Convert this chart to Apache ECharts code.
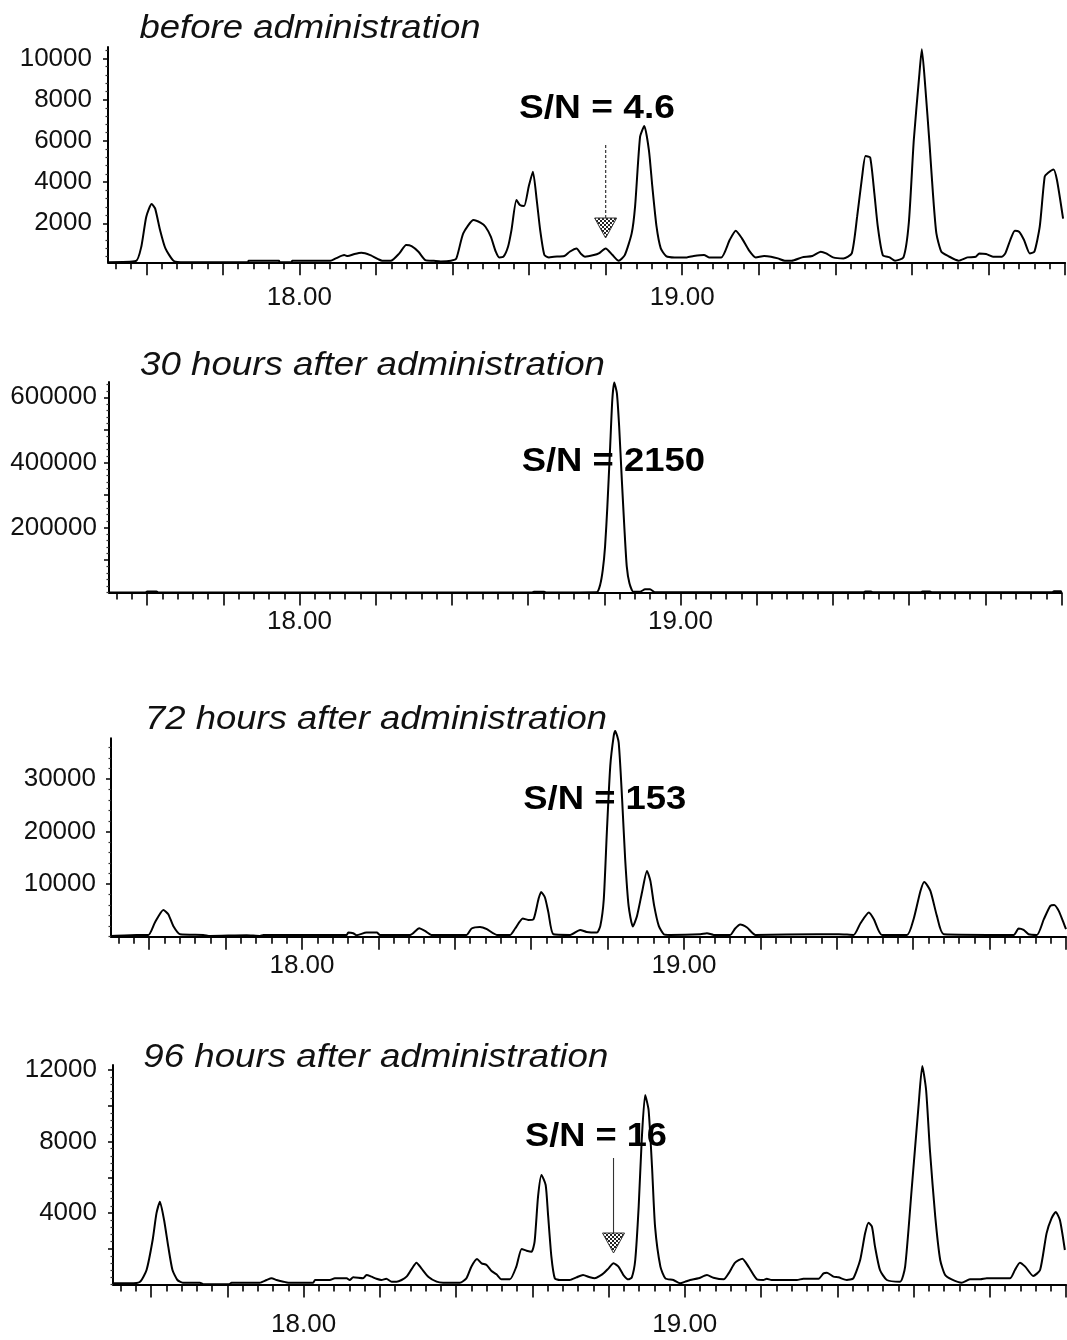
<!DOCTYPE html>
<html><head><meta charset="utf-8">
<script src="https://cdn.jsdelivr.net/npm/echarts@6/dist/echarts.min.js"></script>
<style>html,body{margin:0;padding:0;background:#fff}#c{width:1067px;height:1340px}</style>
</head><body><div id="c"></div>
<script>
// ---------------- data ----------------
const xTickLabels = [18.00, 19.00];

const p1YLabels = [2000, 4000, 6000, 8000, 10000];
const p2YLabels = [200000, 400000, 600000];
const p3YLabels = [10000, 20000, 30000];
const p4YLabels = [4000, 8000, 12000];

const titles = ['before administration', '30 hours after administration', '72 hours after administration', '96 hours after administration'];
const snLabels = ['S/N = 4.6', 'S/N = 2150', 'S/N = 153', 'S/N = 16'];

// before administration: [retention time (min), intensity]
const p1 = [[17.500,110],[17.573,167],[17.587,862],[17.600,2318],[17.614,2932],[17.623,2722],[17.636,1671],[17.650,781],[17.672,167],[17.700,110],[17.866,110],[17.867,183],[17.947,183],[17.948,110],[17.980,110],[17.981,183],[18.081,183],[18.095,296],[18.117,458],[18.126,409],[18.144,507],[18.162,571],[18.185,458],[18.207,248],[18.216,183],[18.239,183],[18.261,539],[18.279,943],[18.293,894],[18.311,620],[18.329,215],[18.351,183],[18.369,150],[18.396,183],[18.410,296],[18.428,1509],[18.455,2156],[18.473,2027],[18.486,1832],[18.500,1347],[18.513,620],[18.522,345],[18.533,377],[18.545,862],[18.554,1671],[18.567,3126],[18.576,2883],[18.587,2835],[18.599,3773],[18.610,4500],[18.620,3126],[18.629,1671],[18.640,458],[18.652,345],[18.665,377],[18.692,409],[18.706,620],[18.724,781],[18.736,507],[18.746,377],[18.769,458],[18.782,539],[18.800,781],[18.818,458],[18.834,183],[18.850,458],[18.868,1509],[18.877,2835],[18.890,6198],[18.901,6716],[18.913,5552],[18.922,3773],[18.933,1832],[18.944,781],[18.958,409],[18.980,345],[19.012,345],[19.030,409],[19.057,458],[19.070,345],[19.102,345],[19.124,1186],[19.140,1638],[19.156,1267],[19.174,701],[19.192,345],[19.214,409],[19.232,377],[19.250,296],[19.268,183],[19.286,183],[19.313,345],[19.340,409],[19.362,620],[19.376,539],[19.394,345],[19.421,296],[19.443,539],[19.457,2318],[19.470,4258],[19.479,5260],[19.491,5196],[19.502,3449],[19.511,1832],[19.524,458],[19.542,345],[19.556,183],[19.578,345],[19.592,2027],[19.605,6037],[19.619,9109],[19.626,10435],[19.635,8624],[19.646,5875],[19.655,3449],[19.664,1509],[19.677,620],[19.695,409],[19.722,183],[19.745,345],[19.767,377],[19.776,539],[19.794,507],[19.812,377],[19.835,377],[19.844,539],[19.857,1186],[19.869,1638],[19.880,1590],[19.893,1186],[19.908,539],[19.920,620],[19.934,1832],[19.947,4258],[19.956,4452],[19.970,4613],[19.979,4096],[19.995,2222]];

// 30 hours after administration
const p2 = [[17.500,0],[17.595,0],[17.600,3000],[17.625,3000],[17.630,0],[18.610,0],[18.615,2500],[18.642,2500],[18.648,0],[18.780,600],[18.789,23000],[18.796,69200],[18.802,141000],[18.808,264000],[18.815,438500],[18.821,592300],[18.826,645600],[18.833,613000],[18.839,510200],[18.846,346200],[18.853,192300],[18.859,79400],[18.866,28300],[18.876,2500],[18.894,2500],[18.907,9800],[18.920,9800],[18.933,1000],[19.480,1000],[19.485,3000],[19.500,3000],[19.505,1000],[19.630,1000],[19.635,3000],[19.655,3000],[19.660,1000],[19.975,1000],[19.980,3500],[19.998,3500],[20.000,1000]];

// 72 hours after administration
const p3 = [[17.500,152],[17.567,343],[17.598,343],[17.615,2705],[17.637,5105],[17.650,4286],[17.663,2057],[17.681,476],[17.742,343],[17.759,152],[17.855,286],[17.890,152],[17.899,343],[18.117,343],[18.121,800],[18.134,667],[18.143,286],[18.169,800],[18.196,800],[18.204,343],[18.283,343],[18.307,1619],[18.322,1105],[18.339,343],[18.431,343],[18.444,1562],[18.466,1867],[18.484,1429],[18.510,343],[18.545,343],[18.558,1562],[18.578,3467],[18.592,3200],[18.606,3334],[18.619,7144],[18.626,8534],[18.636,7468],[18.645,4610],[18.658,476],[18.702,343],[18.728,1295],[18.745,914],[18.772,800],[18.781,2057],[18.790,7144],[18.798,19850],[18.807,32540],[18.816,38250],[18.820,39200],[18.829,37000],[18.838,26190],[18.846,14760],[18.855,5870],[18.866,1943],[18.877,3962],[18.890,8420],[18.903,12540],[18.912,10630],[18.922,5870],[18.934,2057],[18.947,476],[18.964,343],[19.043,476],[19.060,667],[19.078,343],[19.121,343],[19.134,1562],[19.147,2324],[19.165,1753],[19.187,343],[19.348,476],[19.405,476],[19.444,343],[19.462,2572],[19.484,4610],[19.497,3334],[19.518,343],[19.584,343],[19.601,3334],[19.619,8725],[19.629,10440],[19.645,8725],[19.662,3962],[19.680,476],[19.863,343],[19.876,1562],[19.889,1295],[19.902,476],[19.924,343],[19.942,3334],[19.959,5870],[19.969,6060],[19.981,4915],[19.994,2572],[20.000,1429]];

// 96 hours after administration
const p4 = [[17.500,65],[17.545,65],[17.571,158],[17.588,811],[17.604,2489],[17.614,3981],[17.623,4634],[17.634,3608],[17.645,2116],[17.656,811],[17.669,252],[17.683,100],[17.728,100],[17.737,20],[17.805,20],[17.811,100],[17.885,100],[17.903,252],[17.916,345],[17.929,252],[17.947,158],[17.960,100],[18.025,100],[18.030,252],[18.069,252],[18.082,345],[18.113,345],[18.121,252],[18.130,401],[18.156,345],[18.165,531],[18.178,438],[18.191,320],[18.204,252],[18.217,320],[18.231,158],[18.244,158],[18.257,252],[18.270,438],[18.283,848],[18.296,1221],[18.309,904],[18.327,438],[18.349,158],[18.366,100],[18.410,100],[18.427,345],[18.440,998],[18.455,1426],[18.467,1184],[18.480,1091],[18.493,755],[18.506,569],[18.519,290],[18.541,290],[18.558,998],[18.572,1986],[18.585,1893],[18.598,1837],[18.606,2396],[18.615,4913],[18.624,6125],[18.635,5566],[18.641,3981],[18.650,1557],[18.659,345],[18.672,252],[18.698,252],[18.716,401],[18.733,531],[18.751,401],[18.764,345],[18.777,476],[18.787,625],[18.800,904],[18.813,1184],[18.826,998],[18.839,531],[18.852,290],[18.861,401],[18.870,1371],[18.879,4354],[18.887,8083],[18.896,10601],[18.905,9762],[18.914,6591],[18.922,3235],[18.936,998],[18.949,345],[18.970,252],[18.988,65],[19.001,158],[19.014,252],[19.036,345],[19.058,531],[19.075,380],[19.102,290],[19.115,625],[19.132,1221],[19.151,1445],[19.167,998],[19.189,290],[19.206,252],[19.215,320],[19.228,252],[19.294,252],[19.311,320],[19.351,320],[19.364,625],[19.373,662],[19.390,438],[19.403,401],[19.425,252],[19.442,345],[19.460,1371],[19.473,2862],[19.482,3459],[19.491,3235],[19.499,2116],[19.512,811],[19.530,252],[19.565,158],[19.578,998],[19.595,5286],[19.613,9948],[19.623,12223],[19.633,10880],[19.643,7524],[19.657,3794],[19.670,1371],[19.683,531],[19.700,290],[19.726,100],[19.748,290],[19.775,290],[19.792,345],[19.810,345],[19.853,345],[19.866,811],[19.879,1221],[19.893,998],[19.914,476],[19.932,811],[19.949,2862],[19.962,3702],[19.973,4056],[19.984,3608],[19.997,1930]];

// ---------------- layout ----------------
const FONT = '"Liberation Sans", Arial, Helvetica, sans-serif';
const X_MIN = 17.5, X_MAX = 20.0;
function range(a, b, step) { const out = []; for (let k = 0; a + k * step <= b + 1e-9; k++) out.push(Math.round((a + k * step) * 1e6) / 1e6); return out; }
const xMajor = range(17.6, 20.0, 0.2);
const xMinor = range(17.52, 20.0, 0.04).filter(v => Math.abs(v * 5 - Math.round(v * 5)) > 1e-6);

const panels = [
  { data: p1, labels: p1YLabels, mid: [], minorStep: 400, yMin: 107, yMax: 10550, left: 108, top: 47, width: 957, height: 215.3, yMargin: 16, xMargin: 23 },
  { data: p2, labels: p2YLabels, mid: [100000, 300000, 500000], minorStep: 20000, yMin: 0, yMax: 647000, left: 109, top: 382, width: 952.5, height: 210.5, yMargin: 12, xMargin: 16 },
  { data: p3, labels: p3YLabels, mid: [], minorStep: 2000, yMin: 0, yMax: 37800, left: 111, top: 738.3, width: 955, height: 198.4, yMargin: 15, xMargin: 16 },
  { data: p4, labels: p4YLabels, mid: [2000, 6000, 10000], minorStep: 400, yMin: 0, yMax: 12280, left: 113, top: 1065, width: 953, height: 219.5, yMargin: 16, xMargin: 27 }
];

const LABEL_FS = 26;
const grid = [], xAxis = [], yAxis = [], series = [];
panels.forEach((p, i) => {
  grid.push({ left: p.left, top: p.top, width: p.width, height: p.height, containLabel: false });
  xAxis.push({
    type: 'value', gridIndex: i, min: X_MIN, max: X_MAX, position: 'bottom',
    axisLine: { show: true, onZero: false, lineStyle: { color: '#000', width: 2 } },
    axisTick: { show: true, customValues: xMajor, length: 13, lineStyle: { color: '#000', width: 1.6 } },
    axisLabel: { show: true, customValues: xTickLabels, formatter: v => Number(v).toFixed(2), margin: p.xMargin, fontSize: LABEL_FS, color: '#111', fontFamily: FONT },
    splitLine: { show: false }, minorTick: { show: false }
  });
  xAxis.push({
    type: 'value', gridIndex: i, min: X_MIN, max: X_MAX, position: 'bottom',
    axisLine: { show: false },
    axisTick: { show: true, customValues: xMinor, length: 7, lineStyle: { color: '#000', width: 1.6 } },
    axisLabel: { show: false }, splitLine: { show: false }
  });
  const majorTicks = p.labels.concat(p.mid);
  const minor = range(0, p.yMax, p.minorStep).filter(v => v >= p.yMin && majorTicks.indexOf(v) < 0);
  yAxis.push({
    type: 'value', gridIndex: i, min: p.yMin, max: p.yMax, position: 'left',
    axisLine: { show: true, onZero: false, lineStyle: { color: '#000', width: 2 } },
    axisTick: { show: true, customValues: majorTicks, length: 5, lineStyle: { color: '#000', width: 1.5 } },
    axisLabel: { show: true, customValues: p.labels, formatter: v => String(Math.round(v)), margin: p.yMargin, fontSize: LABEL_FS, color: '#111', fontFamily: FONT },
    splitLine: { show: false }
  });
  yAxis.push({
    type: 'value', gridIndex: i, min: p.yMin, max: p.yMax, position: 'left',
    axisLine: { show: false },
    axisTick: { show: true, customValues: minor, length: 2.5, lineStyle: { color: '#333', width: 1.2 } },
    axisLabel: { show: false }, splitLine: { show: false }
  });
  series.push({
    type: 'line', xAxisIndex: 2 * i, yAxisIndex: 2 * i, data: p.data,
    showSymbol: false, symbol: 'none', clip: false, smooth: 0.2,
    lineStyle: { color: '#000', width: 2 }, silent: true, z: 3
  });
});

const chart = echarts.init(document.getElementById('c'), null, { renderer: 'canvas' });
chart.setOption({ animation: false, backgroundColor: '#fff', grid, xAxis, yAxis, series });

// ---------------- annotations ----------------
const mctx = document.createElement('canvas').getContext('2d');
function fit(text, font, target) { mctx.font = font; return target / mctx.measureText(text).width; }
const titlePos = [
  { x: 139.5, base: 40, w: 341 }, { x: 140, base: 377.3, w: 465 },
  { x: 145, base: 731.7, w: 462 }, { x: 143.3, base: 1069.3, w: 465 }
];
const snPos = [
  { x: 519, base: 120, w: 156 }, { x: 521.7, base: 473.3, w: 183.3 },
  { x: 523.3, base: 811, w: 163 }, { x: 525, base: 1148.3, w: 142 }
];
const TFS = 34, SFS = 33;
const tFont = 'italic ' + TFS + 'px ' + FONT;
const sFont = 'bold ' + SFS + 'px ' + FONT;
const graphic = [];
titles.forEach((t, i) => {
  const q = titlePos[i];
  graphic.push({ type: 'text', x: q.x, y: q.base - 0.3465 * TFS, scaleX: fit(t, tFont, q.w), z: 10,
    style: { text: t, font: tFont, fill: '#111', align: 'left', verticalAlign: 'middle', textAlign: 'left', textVerticalAlign: 'middle' } });
});
snLabels.forEach((t, i) => {
  const q = snPos[i];
  graphic.push({ type: 'text', x: q.x, y: q.base - 0.3465 * SFS, scaleX: fit(t, sFont, q.w), z: 10,
    style: { text: t, font: sFont, fill: '#000', align: 'left', verticalAlign: 'middle', textAlign: 'left', textVerticalAlign: 'middle' } });
});
// hatched arrow heads
const pc = document.createElement('canvas'); pc.width = 4; pc.height = 4;
const pg = pc.getContext('2d'); pg.fillStyle = '#fff'; pg.fillRect(0, 0, 4, 4);
pg.fillStyle = '#222'; pg.fillRect(0, 0, 2, 2); pg.fillRect(2, 2, 2, 2);
const pattern = { image: pc, repeat: 'repeat' };
const ax1 = chart.convertToPixel({ xAxisIndex: 0 }, 18.80);
const ax4 = chart.convertToPixel({ xAxisIndex: 6 }, 18.813);
graphic.push({ type: 'line', z: 9, shape: { x1: ax1, y1: 145, x2: ax1, y2: 219 }, style: { stroke: '#444', lineWidth: 1.3, lineDash: [3, 2] } });
graphic.push({ type: 'polygon', z: 9, shape: { points: [[ax1 - 11, 218], [ax1 + 11, 218], [ax1, 238]] }, style: { fill: pattern, stroke: '#333', lineWidth: 1 } });
graphic.push({ type: 'line', z: 9, shape: { x1: ax4, y1: 1158, x2: ax4, y2: 1234 }, style: { stroke: '#333', lineWidth: 1.1 } });
graphic.push({ type: 'polygon', z: 9, shape: { points: [[ax4 - 11, 1233], [ax4 + 11, 1233], [ax4, 1253]] }, style: { fill: pattern, stroke: '#333', lineWidth: 1 } });
chart.setOption({ graphic });
</script>
</body></html>
